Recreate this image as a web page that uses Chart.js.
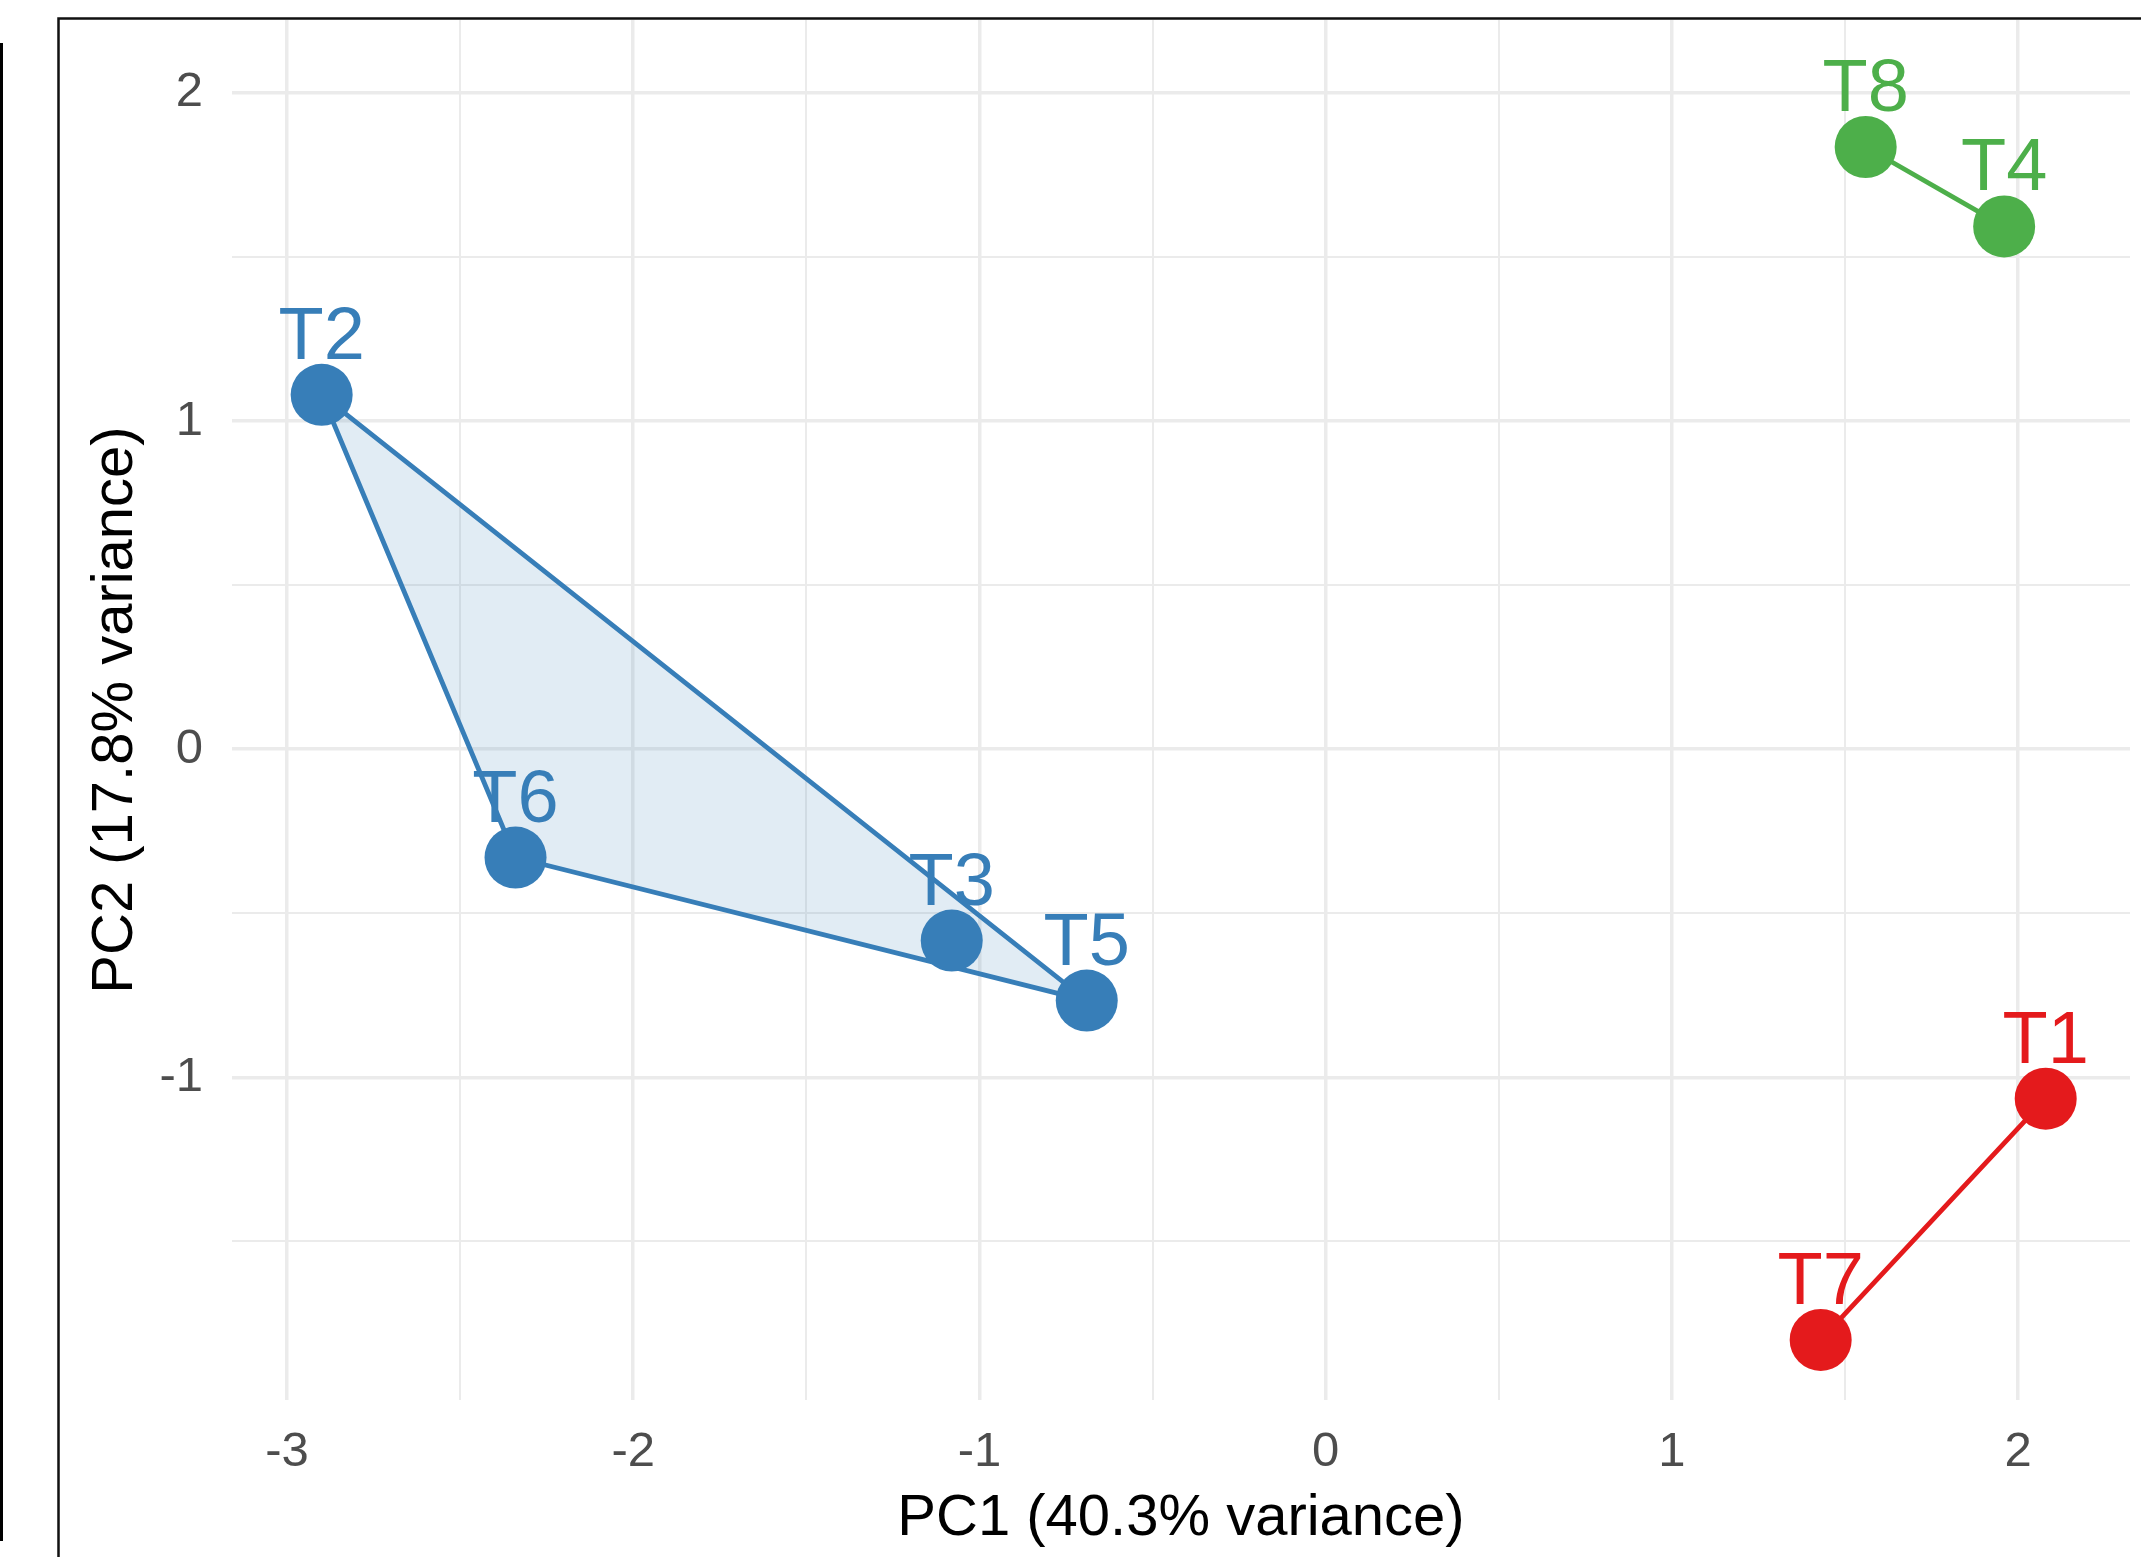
<!DOCTYPE html>
<html>
<head>
<meta charset="utf-8">
<script src="https://cdn.jsdelivr.net/npm/chart.js@4.4.0/dist/chart.umd.min.js"></script>
<style>
  html, body { margin: 0; padding: 0; background: #fff; }
  #wrap { width: 2141px; height: 1557px; }
</style>
</head>
<body>
<div id="wrap"><canvas id="pca" width="2141" height="1557"></canvas></div>
<script>
// sample scores
const samples = ['T1', 'T2', 'T3', 'T4', 'T5', 'T6', 'T7', 'T8'];
const pc1 = [2.08, -2.90, -1.08, 1.96, -0.69, -2.34, 1.43, 1.56];
const pc2 = [-1.065, 1.08, -0.583, 1.593, -0.766, -0.33, -1.80, 1.835];
const groups = ['red', 'blue', 'blue', 'green', 'blue', 'blue', 'red', 'green'];

// axis ticks
const xTicks = [-3, -2, -1, 0, 1, 2];
const xMinor = [-2.5, -1.5, -0.5, 0.5, 1.5];
const yTicks = [-1, 0, 1, 2];
const yMinor = [-1.5, -0.5, 0.5, 1.5];
const xLimits = [-3.159, 2.3235];
const yLimits = [-1.983, 2.222];

const groupColors = { red: '#E41A1C', blue: '#377EB8', green: '#4DAF4A' };
const groupFills = { red: 'rgba(228,26,28,0.15)', blue: 'rgba(55,126,184,0.15)', green: 'rgba(77,175,74,0.15)' };
const FONT = '"Liberation Sans", Arial, sans-serif';

// convex hull (monotone chain) of a group's points
function hull(pts) {
    const p = pts.slice().sort((a, b) => a.x - b.x || a.y - b.y);
    if (p.length < 3) return p;
    const cross = (o, a, b) => (a.x - o.x) * (b.y - o.y) - (a.y - o.y) * (b.x - o.x);
    const lower = [], upper = [];
    p.forEach(pt => {
        while (lower.length >= 2 && cross(lower[lower.length - 2], lower[lower.length - 1], pt) <= 0) lower.pop();
        lower.push(pt);
    });
    p.slice().reverse().forEach(pt => {
        while (upper.length >= 2 && cross(upper[upper.length - 2], upper[upper.length - 1], pt) <= 0) upper.pop();
        upper.push(pt);
    });
    upper.pop(); lower.pop();
    return lower.concat(upper);
}

const groupNames = ['red', 'blue', 'green'];
const pointSets = groupNames.map(g => ({
    type: 'scatter',
    label: g,
    order: 0,
    data: samples.map((s, i) => ({ x: pc1[i], y: pc2[i], name: s, g: groups[i] })).filter(d => d.g === g),
    backgroundColor: groupColors[g],
    borderWidth: 0,
    pointRadius: 31,
    pointHoverRadius: 31
}));
const hullSets = groupNames.map((g, k) => {
    const h = hull(pointSets[k].data);
    const closed = h.concat([h[0]]);
    return {
        type: 'line',
        label: g + ' hull',
        order: 1,
        data: closed.map(d => ({ x: d.x, y: d.y })),
        borderColor: groupColors[g],
        backgroundColor: groupFills[g],
        borderWidth: 4.8,
        pointRadius: 0,
        tension: 0,
        fill: h.length >= 3 ? 'shape' : false
    };
});

// sample names above the points
const pointLabels = {
    id: 'pointLabels',
    afterDatasetsDraw(chart) {
        const ctx = chart.ctx;
        const xs = chart.scales.x, ys = chart.scales.y;
        ctx.save();
        ctx.font = '74px ' + FONT;
        ctx.textAlign = 'center';
        ctx.textBaseline = 'alphabetic';
        samples.forEach((s, i) => {
            ctx.fillStyle = groupColors[groups[i]];
            ctx.fillText(s, xs.getPixelForValue(pc1[i]), ys.getPixelForValue(pc2[i]) - 36);
        });
        ctx.restore();
    }
};

// frame seen around the screenshot
const frame = {
    id: 'frame',
    afterDraw(chart) {
        const ctx = chart.ctx;
        ctx.save();
        ctx.strokeStyle = '#111';
        ctx.lineWidth = 2.5;
        ctx.beginPath();
        ctx.moveTo(58.5, chart.height + 5);
        ctx.lineTo(58.5, 18.5);
        ctx.lineTo(chart.width + 5, 18.5);
        ctx.stroke();
        ctx.fillStyle = '#000';
        ctx.fillRect(0, 43, 3, 1498);
        ctx.restore();
    }
};

function gridStyle(minor) {
    return {
        color: '#EBEBEB',
        lineWidth: ctx => minor.includes(ctx.tick && ctx.tick.value) ? 2 : 3.5,
        drawTicks: false
    };
}

function noPad(scale) {
    scale.paddingTop = 0;
    scale.paddingBottom = 0;
    scale.paddingLeft = 0;
    scale.paddingRight = 0;
}

new Chart(document.getElementById('pca'), {
    type: 'scatter',
    data: { datasets: pointSets.concat(hullSets) },
    options: {
        responsive: false,
        animation: false,
        events: [],
        layout: { autoPadding: false, padding: { top: 20, right: 11, left: 0, bottom: 0 } },
        plugins: {
            legend: { display: false },
            tooltip: { enabled: false }
        },
        scales: {
            x: {
                type: 'linear',
                min: xLimits[0],
                max: xLimits[1],
                afterBuildTicks: scale => {
                    scale.ticks = xTicks.concat(xMinor).sort((a, b) => a - b).map(v => ({ value: v }));
                },
                afterFit: scale => { scale.height = 157; noPad(scale); },
                grid: gridStyle(xMinor),
                border: { display: false },
                ticks: {
                    autoSkip: false,
                    maxRotation: 0,
                    padding: 23,
                    color: '#4D4D4D',
                    font: { family: FONT, size: 49 },
                    callback: v => xTicks.includes(v) ? String(v) : ''
                },
                title: {
                    display: true,
                    text: 'PC1 (40.3% variance)',
                    color: '#000',
                    font: { family: FONT, size: 58, lineHeight: 1 },
                    padding: { top: 0, bottom: 9 }
                }
            },
            y: {
                type: 'linear',
                min: yLimits[0],
                max: yLimits[1],
                afterBuildTicks: scale => {
                    scale.ticks = yTicks.concat(yMinor).sort((a, b) => a - b).map(v => ({ value: v }));
                },
                afterFit: scale => { scale.width = 232; noPad(scale); },
                grid: gridStyle(yMinor),
                border: { display: false },
                ticks: {
                    autoSkip: false,
                    padding: 29,
                    color: '#4D4D4D',
                    font: { family: FONT, size: 49 },
                    callback: v => yTicks.includes(v) ? String(v) : ''
                },
                title: {
                    display: true,
                    text: 'PC2 (17.8% variance)',
                    color: '#000',
                    font: { family: FONT, size: 58, lineHeight: 1 },
                    padding: { top: 87, bottom: 0 }
                }
            }
        }
    },
    plugins: [pointLabels, frame]
});
</script>
</body>
</html>
